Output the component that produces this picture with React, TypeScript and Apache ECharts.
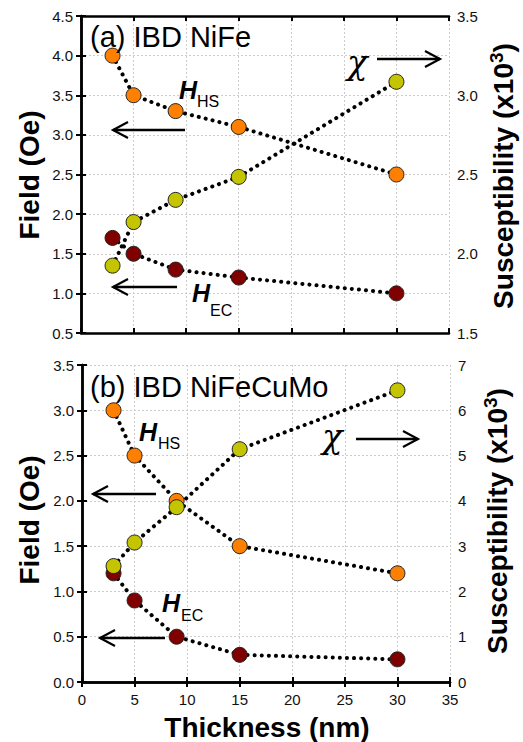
import React, { useEffect, useRef } from "react";
import * as echarts from "echarts";

// Thickness (nm)
const thickness = [3, 5, 9, 15, 30];

// Panel (a) IBD NiFe
const aHHS = [4.0, 3.5, 3.3, 3.1, 2.5];
const aHEC = [1.7, 1.5, 1.3, 1.2, 1.0];
const aChi = [1.925, 2.2, 2.34, 2.485, 3.085];

// Panel (b) IBD NiFeCuMo
const bHHS = [3.0, 2.5, 2.0, 1.5, 1.2];
const bHEC = [1.2, 0.9, 0.5, 0.3, 0.25];
const bChi = [2.56, 3.08, 3.86, 5.14, 6.44];

const titles = ["(a) IBD NiFe", "(b) IBD NiFeCuMo"];

const SANS = '"Liberation Sans", Arial, sans-serif';
const C_HS = "#FF8000";
const C_EC = "#800000";
const C_CHI = "#C4C400";

const pairs = (ys: number[]) => thickness.map((x, i) => [x, ys[i]]);

export default function App() {
  const ref = useRef<HTMLDivElement>(null);
  useEffect(() => {
    document.body.style.margin = "0";
    const chart = echarts.init(ref.current!, null, { renderer: "svg" });

    const grids = [
      { left: 81, top: 16, width: 368, height: 317 },
      { left: 82, top: 365, width: 368, height: 317 },
    ];

    const axisLine = { show: true, lineStyle: { color: "#000", width: 2.5 } };
    const tick = { show: true, inside: true, length: 5, lineStyle: { color: "#000", width: 2 } };
    const split = { show: true, lineStyle: { color: "#cccccc", type: [2, 2], width: 1 } };
    const label = { color: "#111", fontSize: 15, fontFamily: SANS, margin: 8 };

    const xAxes: any[] = [];
    const yAxes: any[] = [];
    [0, 1].forEach((g) => {
      xAxes.push({
        type: "value", gridIndex: g, min: 0, max: 35, interval: 5, position: "bottom",
        axisLine, axisTick: tick, splitLine: split,
        axisLabel: { ...label, show: g === 1, margin: 10 },
      });
      xAxes.push({
        type: "value", gridIndex: g, min: 0, max: 35, interval: 5, position: "top",
        axisLine, axisTick: tick, splitLine: { show: false }, axisLabel: { show: false },
      });
    });
    // panel a
    yAxes.push({
      type: "value", gridIndex: 0, min: 0.5, max: 4.5, interval: 0.5, position: "left",
      axisLine, axisTick: tick, splitLine: split,
      axisLabel: { ...label, formatter: (v: number) => v.toFixed(1), showMinLabel: true, showMaxLabel: true },
    });
    yAxes.push({
      type: "value", gridIndex: 0, min: 1.5, max: 3.5, interval: 0.25, position: "right",
      axisLine, axisTick: tick, splitLine: { show: false },
      axisLabel: {
        ...label, showMinLabel: true, showMaxLabel: true,
        formatter: (v: number) => (Math.abs(v * 2 - Math.round(v * 2)) < 1e-6 ? v.toFixed(1) : ""),
      },
    });
    // panel b
    yAxes.push({
      type: "value", gridIndex: 1, min: 0, max: 3.5, interval: 0.5, position: "left",
      axisLine, axisTick: tick, splitLine: split,
      axisLabel: { ...label, formatter: (v: number) => v.toFixed(1), showMinLabel: true, showMaxLabel: true },
    });
    yAxes.push({
      type: "value", gridIndex: 1, min: 0, max: 7, interval: 1, position: "right",
      axisLine, axisTick: tick, splitLine: { show: false },
      axisLabel: { ...label, formatter: (v: number) => String(v), showMinLabel: true, showMaxLabel: true },
    });

    const mkSeries = (name: string, data: number[], color: string, xi: number, yi: number) => ({
      name, type: "line", xAxisIndex: xi, yAxisIndex: yi, data: pairs(data),
      symbol: "circle", symbolSize: 15,
      itemStyle: { color, borderColor: "#222", borderWidth: 1 },
      lineStyle: { color: "#000", width: 4, type: [0.1, 7], cap: "round" },
    });

    const series = [
      mkSeries("H_HS (a)", aHHS, C_HS, 0, 0),
      mkSeries("H_EC (a)", aHEC, C_EC, 0, 0),
      mkSeries("χ (a)", aChi, C_CHI, 0, 1),
      mkSeries("H_HS (b)", bHHS, C_HS, 2, 2),
      mkSeries("H_EC (b)", bHEC, C_EC, 2, 2),
      mkSeries("χ (b)", bChi, C_CHI, 2, 3),
    ];

    const txt = (text: string, x: number, y: number, font: string, extra: any = {}) => ({
      type: "text", x, y, z: 100,
      style: { text, font, fill: "#000", align: "left", verticalAlign: "middle", ...extra },
    });
    const arrow = (x0: number, x1: number, y: number) => {
      const dir = x1 > x0 ? -1 : 1;
      return [
        { type: "polyline", z: 100, shape: { points: [[x0, y], [x1, y]] }, style: { stroke: "#000", lineWidth: 2.5, fill: null } },
        { type: "polyline", z: 100, shape: { points: [[x1 + dir * 15, y - 8], [x1, y], [x1 + dir * 15, y + 8]] }, style: { stroke: "#000", lineWidth: 2.2, fill: null } },
      ];
    };
    const HB = `italic bold 25px ${SANS}`;
    const SUB = `16px ${SANS}`;
    const CHI = `italic 34px "DejaVu Serif", "Liberation Serif", serif`;
    const TITLE = `29px ${SANS}`;
    const AX = `bold 28px ${SANS}`;

    const suscRich = {
      text: "{a|Susceptibility (x10}{b|3}{a|)}",
      rich: {
        a: { font: AX, fill: "#000", lineHeight: 32 },
        b: { font: `bold 19px ${SANS}`, fill: "#000", lineHeight: 19, verticalAlign: "top" },
      },
    };

    const graphic: any[] = [
      // panel a
      txt(titles[0], 90, 37, TITLE),
      txt("H", 179, 90, HB),
      txt("HS", 197, 101, SUB),
      ...arrow(185, 113, 130),
      txt("H", 192, 293, HB),
      txt("EC", 210, 310, SUB),
      ...arrow(177, 113, 287),
      txt("χ", 347, 62, CHI),
      ...arrow(377, 440, 59),
      // panel b
      txt(titles[1], 90, 387, TITLE),
      txt("H", 139, 432, HB),
      txt("HS", 158, 443, SUB),
      ...arrow(156, 93, 494),
      txt("H", 162, 603, HB),
      txt("EC", 181, 615, SUB),
      ...arrow(165, 100, 638),
      txt("χ", 322, 436, CHI),
      ...arrow(356, 418, 439),
      // axis titles
      { type: "text", x: 29, y: 175, rotation: Math.PI / 2, z: 100, style: { text: "Field (Oe)", font: AX, fill: "#000", align: "center", verticalAlign: "middle" } },
      { type: "text", x: 29, y: 520, rotation: Math.PI / 2, z: 100, style: { text: "Field (Oe)", font: AX, fill: "#000", align: "center", verticalAlign: "middle" } },
      { type: "text", x: 503, y: 176, rotation: Math.PI / 2, z: 100, style: { ...suscRich, align: "center", verticalAlign: "middle" } },
      { type: "text", x: 497, y: 521, rotation: Math.PI / 2, z: 100, style: { ...suscRich, align: "center", verticalAlign: "middle" } },
      { type: "text", x: 267, y: 727, z: 100, style: { text: "Thickness (nm)", font: AX, fill: "#000", align: "center", verticalAlign: "middle" } },
    ];

    chart.setOption({
      animation: false,
      backgroundColor: "#fff",
      grid: grids,
      xAxis: xAxes,
      yAxis: yAxes,
      series,
      graphic,
    });
    return () => chart.dispose();
  }, []);
  return <div ref={ref} style={{ width: 523, height: 742 }} />;
}
